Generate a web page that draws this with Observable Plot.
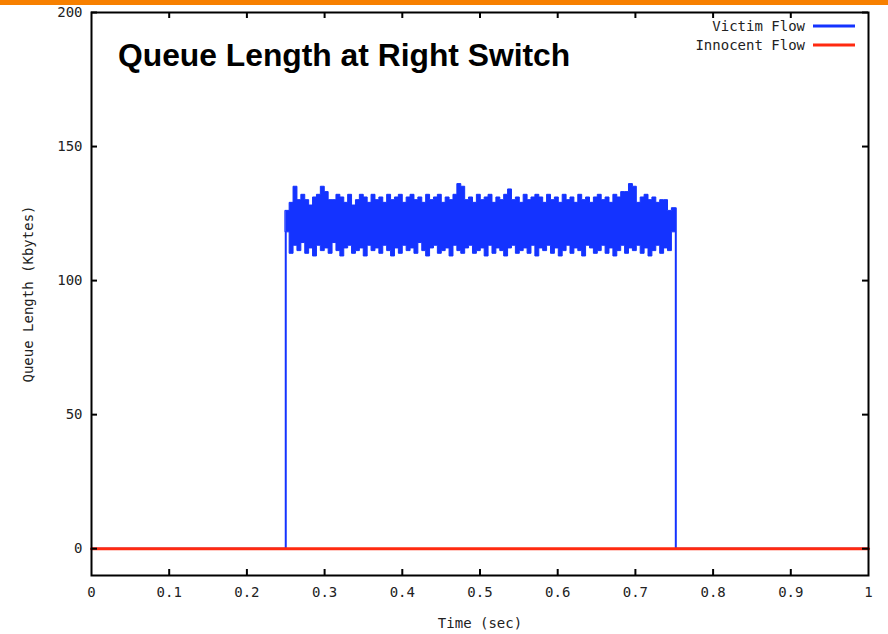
<!DOCTYPE html>
<html>
<head>
<meta charset="utf-8">
<script src="https://cdn.jsdelivr.net/npm/d3@7"></script>
<script src="https://cdn.jsdelivr.net/npm/@observablehq/plot@0.6"></script>
<style>
  html, body { margin: 0; padding: 0; background: #fff; }
  #bar { height: 5px; background: #f78000; width: 888px; }
  #chart { position: relative; width: 888px; }
  svg { display: block; }
</style>
</head>
<body>
<div id="chart"></div>
<script>
// ---- data ----
const title = "Queue Length at Right Switch";
const xLabel = "Time (sec)";
const yLabel = "Queue Length (Kbytes)";
const seriesNames = ["Victim Flow", "Innocent Flow"];
const seriesColors = ["#1433ff", "#ff2a10"];
const xTicks = [0, 0.1, 0.2, 0.3, 0.4, 0.5, 0.6, 0.7, 0.8, 0.9, 1];
const xTickLabels = ["0", "0.1", "0.2", "0.3", "0.4", "0.5", "0.6", "0.7", "0.8", "0.9", "1"];
const yTicks = [0, 50, 100, 150, 200];

// victim flow: active between start and end, oscillating between a lower and upper envelope
const victimStart = 0.25;
const victimEnd = 0.752;
const victimStep = 0.005;
const victimUpper = [
  126, 129, 135, 130, 132, 130, 128, 131, 132, 135,
  133, 130, 130, 132, 131, 129, 132, 128, 130, 132,
  131, 129, 132, 130, 131, 129, 132, 130, 131, 132,
  129, 131, 132, 130, 131, 129, 132, 130, 131, 132,
  129, 131, 130, 132, 136, 135, 130, 131, 129, 132,
  130, 131, 132, 129, 131, 130, 132, 134, 130, 131,
  129, 132, 130, 131, 132, 131, 129, 132, 130, 131,
  129, 132, 130, 131, 129, 132, 130, 131, 129, 131,
  132, 130, 131, 129, 132, 131, 133, 133, 136, 135,
  129, 131, 132, 130, 131, 129, 130, 130, 126, 127
];
const victimLower = [
  118, 110, 113, 111, 114, 110, 112, 109, 113, 111,
  112, 110, 114, 111, 109, 112, 113, 110, 111, 112,
  109, 113, 111, 112, 110, 113, 111, 109, 112, 110,
  113, 111, 112, 110, 114, 111, 109, 112, 113, 110,
  111, 112, 109, 113, 111, 110, 112, 113, 110, 111,
  112, 109, 113, 110, 112, 111, 109, 112, 113, 110,
  111, 112, 110, 113, 109, 112, 111, 113, 110, 112,
  109, 111, 113, 110, 112, 111, 109, 113, 112, 110,
  111, 113, 110, 112, 109, 111, 113, 110, 112, 111,
  113, 110, 112, 109, 111, 113, 110, 112, 111, 118
];
// innocent flow stays at zero for the whole run
const innocentTimes = [0, 1];
const innocentValues = [0, 0];

// ---- build tables ----
const band = victimUpper.map((u, i) => ({t: victimStart + i * (victimEnd - victimStart) / victimUpper.length, lo: victimLower[i], hi: u}));
band.push({t: victimEnd, lo: victimLower[victimLower.length - 1], hi: victimUpper[victimUpper.length - 1]});
const victimEdges = [
  [{t: 0, v: 0}, {t: victimStart, v: 0}, {t: victimStart, v: victimLower[0]}],
  [{t: victimEnd, v: victimUpper[victimUpper.length - 1]}, {t: victimEnd, v: 0}, {t: 1, v: 0}]
];
const innocent = innocentTimes.map((t, i) => ({t, v: innocentValues[i]}));

const monoFont = "'DejaVu Sans Mono', monospace";

const plot = Plot.plot({
  width: 888,
  height: 629,
  marginLeft: 91,
  marginRight: 20,
  marginTop: 7,
  marginBottom: 59,
  style: {fontFamily: monoFont, fontSize: "13px", color: "#222", background: "#fff"},
  x: {domain: [0, 1]},
  y: {domain: [-10, 200]},
  marks: [
    // victim flow
    Plot.areaY(band, {x: "t", y1: "lo", y2: "hi", curve: "step-after", fill: seriesColors[0], stroke: seriesColors[0], strokeWidth: 1}),
    ...victimEdges.map(seg => Plot.line(seg, {x: "t", y: "v", stroke: seriesColors[0], strokeWidth: 2})),
    // innocent flow
    Plot.line(innocent, {x: "t", y: "v", stroke: seriesColors[1], strokeWidth: 3}),
    // inward ticks on all four sides
    Plot.ruleX(xTicks.slice(1, -1), {x: d => d, insetTop: 557, stroke: "#000", strokeWidth: 2}),
    Plot.ruleX(xTicks.slice(1, -1), {x: d => d, insetBottom: 557, stroke: "#000", strokeWidth: 2}),
    Plot.ruleY(yTicks, {y: d => d, insetRight: 771, stroke: "#000", strokeWidth: 2}),
    Plot.ruleY(yTicks, {y: d => d, insetLeft: 771, stroke: "#000", strokeWidth: 2}),
    Plot.axisX(xTicks, {tickSize: 0, tickPadding: 12, tickFormat: (d, i) => xTickLabels[i], fontSize: 14,
      label: xLabel, labelAnchor: "center", labelOffset: 52, labelArrow: "none"}),
    Plot.axisY(yTicks, {tickSize: 0, tickPadding: 9, fontSize: 14,
      label: yLabel, labelAnchor: "center", labelOffset: 68, labelArrow: "none"}),
    Plot.frame({stroke: "#000", strokeWidth: 2})
  ]
});

const wrap = document.getElementById("chart");
const bar = document.createElement("div");
bar.id = "bar";
wrap.appendChild(bar);
wrap.appendChild(plot);

// title and legend inside the plot area
const svg = d3.select(plot);
svg.append("text")
  .attr("x", 118).attr("y", 61)
  .attr("text-anchor", "start")
  .attr("font-family", "'Liberation Sans', Arial, sans-serif")
  .attr("font-weight", "bold")
  .attr("font-size", 31.8)
  .attr("fill", "#000")
  .text(title);

const legend = svg.append("g");
seriesNames.forEach((name, i) => {
  const y = 21 + i * 19;
  legend.append("text")
    .attr("x", 805).attr("y", y).attr("dy", "0.35em")
    .attr("text-anchor", "end")
    .attr("font-family", monoFont)
    .attr("font-size", 14)
    .attr("fill", "#222")
    .text(name);
  legend.append("line")
    .attr("x1", 813).attr("x2", 855).attr("y1", y).attr("y2", y)
    .attr("stroke", seriesColors[i]).attr("stroke-width", 3);
});
</script>
</body>
</html>
